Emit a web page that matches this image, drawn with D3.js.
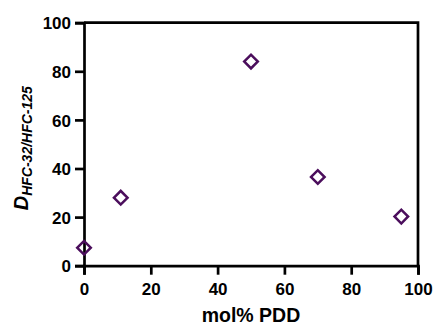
<!DOCTYPE html>
<html>
<head>
<meta charset="utf-8">
<script src="https://cdn.jsdelivr.net/npm/d3@7"></script>
<style>
  body { margin: 0; background: #fff; }
  svg text { font-family: "Liberation Sans", Arial, sans-serif; font-weight: bold; }
</style>
</head>
<body>
<svg id="chart-svg"></svg>
<script>
const molPDD = [0, 11, 50, 70, 95]
const selectivity = [7.4, 28, 84, 36.5, 20.2]
const xTicks = [0, 20, 40, 60, 80, 100]
const yTicks = [0, 20, 40, 60, 80, 100]

const W = 435, H = 327
const margin = { top: 22.7, right: 17, bottom: 61.3, left: 84 }
const innerW = W - margin.left - margin.right
const innerH = H - margin.top - margin.bottom
const color = '#4b0e5c'

const svg = d3.select('#chart-svg')
  .attr('width', W)
  .attr('height', H)

const g = svg.append('g')
  .attr('transform', `translate(${margin.left},${margin.top})`)

const x = d3.scaleLinear().domain([0, 100]).range([0, innerW])
const y = d3.scaleLinear().domain([0, 100]).range([innerH, 0])

// frame top + right
g.append('path')
  .attr('d', `M0,0H${innerW}V${innerH}`)
  .attr('fill', 'none')
  .attr('stroke', '#000')
  .attr('stroke-width', 2.7)

const xAxis = g.append('g')
  .attr('transform', `translate(0,${innerH})`)
  .call(d3.axisBottom(x).tickValues(xTicks).tickSize(9).tickPadding(6))
const yAxis = g.append('g')
  .call(d3.axisLeft(y).tickValues(yTicks).tickSize(9).tickPadding(4))

;[xAxis, yAxis].forEach(a => {
  a.select('.domain').attr('stroke-width', 2.7)
  a.selectAll('.tick line').attr('stroke-width', 2.7)
  a.selectAll('.tick text').attr('font-size', 17).attr('fill', '#000')
})
xAxis.selectAll('.tick text').attr('dy', '0.82em')
yAxis.selectAll('.tick text').attr('dy', '0.36em')

// diamonds
g.selectAll('.pt')
  .data(molPDD.map((d, i) => [d, selectivity[i]]))
  .join('path')
  .attr('class', 'pt')
  .attr('transform', d => `translate(${x(d[0])},${y(d[1])}) rotate(45)`)
  .attr('d', 'M-4.8,-4.8H4.8V4.8H-4.8Z')
  .attr('fill', 'none')
  .attr('stroke', color)
  .attr('stroke-width', 2.5)

// axis titles
svg.append('text')
  .attr('x', margin.left + innerW / 2)
  .attr('y', 322)
  .attr('text-anchor', 'middle')
  .attr('font-size', 19.5)
  .text('mol% PDD')

const yt = svg.append('text')
  .attr('transform', `translate(28,${margin.top + innerH / 2 + 4}) rotate(-90)`)
  .attr('text-anchor', 'middle')
  .attr('font-style', 'italic')
yt.append('tspan').attr('font-size', 20).text('D')
yt.append('tspan').attr('font-size', 14).attr('dy', 4).text('HFC-32/HFC-125')
</script>
</body>
</html>
